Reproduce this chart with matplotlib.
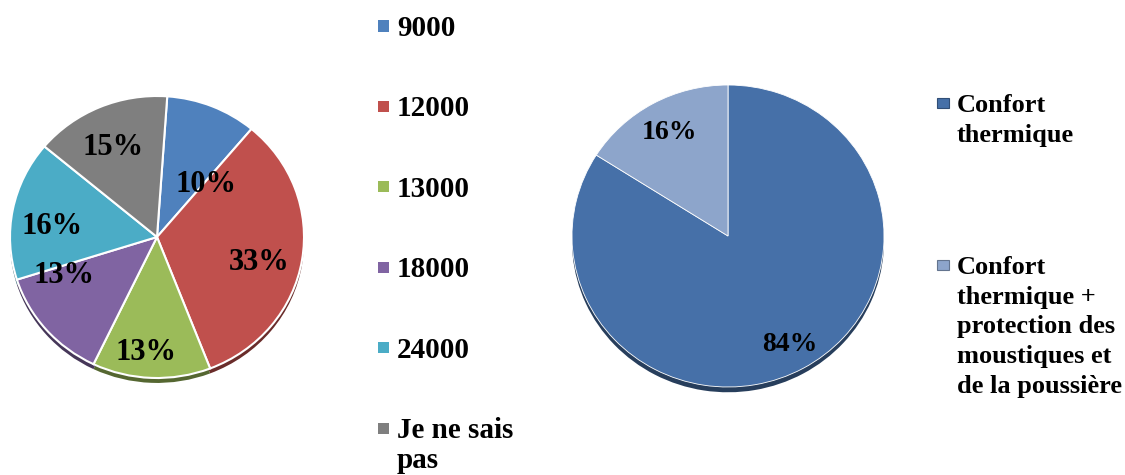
import matplotlib.pyplot as plt
from matplotlib.patches import Rectangle
import numpy as np

# Left pie: capacity (BTU) chosen
cap_labels = ['9000', '12000', '13000', '18000', '24000', 'Je ne sais\npas']
cap_pct = [10, 33, 13, 13, 16, 15]
cap_colors = ['#4F81BD', '#C0504D', '#9BBB59', '#8064A2', '#4BACC6', '#7F7F7F']

# Right pie: reason for the choice
use_labels = ['Confort\nthermique',
              'Confort\nthermique +\nprotection des\nmoustiques et\nde la poussière']
use_pct = [84, 16]
use_colors = ['#4670A8', '#8DA5CB']

FONT = 'Liberation Serif'
W, H = 1125, 475


def darker(c, f=0.55):
    import matplotlib.colors as mc
    r, g, b = mc.to_rgb(c)
    return (r * f, g * f, b * f)


def pie_axes(cx, cy, rx, ry):
    # axes in pixel terms, with a little room below for the shadow rim
    ax = fig.add_axes([(cx - rx) / W, (H - cy - ry * 1.06) / H,
                       2 * rx / W, 2.06 * ry / H])
    ax.axis('off')
    return ax


def draw_pie(ax, vals, colors, edge_lw, start):
    # darker copy slightly lower gives the 3D rim
    ax.pie(vals, colors=[darker(c) for c in colors], startangle=start,
           counterclock=False, radius=1, center=(0, -0.035),
           wedgeprops=dict(linewidth=0))
    wedges, _ = ax.pie(vals, colors=colors, startangle=start, counterclock=False,
                       radius=1, center=(0, 0),
                       wedgeprops=dict(edgecolor='white', linewidth=edge_lw))
    ax.set_xlim(-1, 1)
    ax.set_ylim(-1.06, 1)
    ax.set_aspect('auto')
    return wedges


def put_labels(ax, wedges, vals, radii, shifts, size):
    for w, v, r, s in zip(wedges, vals, radii, shifts):
        a = np.deg2rad((w.theta1 + w.theta2) / 2 + s)
        ax.text(r * np.cos(a), r * np.sin(a), f'{v}%', ha='center', va='center',
                fontsize=size, fontweight='bold', family=FONT, color='black')


fig = plt.figure(figsize=(W / 100, H / 100), dpi=100)

ax1 = pie_axes(157, 237, 147, 141)
w1 = draw_pie(ax1, cap_pct, cap_colors, 1.5, 86)
put_labels(ax1, w1, cap_pct,
           [0.50, 0.72, 0.82, 0.69, 0.72, 0.70],
           [-20, -5, -3, -18, 5, 2], 22)

ax2 = pie_axes(728, 236, 156, 151)
w2 = draw_pie(ax2, use_pct, use_colors, 0.6, 90)
put_labels(ax2, w2, use_pct, [0.82, 0.78], [0, 0], 20)

# legend for the left pie
for i, (lab, col) in enumerate(zip(cap_labels, cap_colors)):
    y = 26 + i * 80.4
    fig.add_artist(Rectangle((378 / W, (H - y - 5.5) / H), 11 / W, 11 / H,
                             transform=fig.transFigure, facecolor=col,
                             edgecolor='none'))
    fig.text(397 / W, (H - y + 11) / H, lab, ha='left', va='top',
             fontsize=21, fontweight='bold', family=FONT, linespacing=1.12)

# legend for the right pie
for i, (lab, col) in enumerate(zip(use_labels, use_colors)):
    y = 103 + i * 162
    fig.add_artist(Rectangle((937 / W, (H - y - 5) / H), 12 / W, 10 / H,
                             transform=fig.transFigure, facecolor=col,
                             edgecolor=darker(col, 0.7), linewidth=0.8))
    fig.text(957 / W, (H - y + 9) / H, lab, ha='left', va='top',
             fontsize=19, fontweight='bold', family=FONT, linespacing=1.37)

fig.savefig('out.png', dpi=100)
